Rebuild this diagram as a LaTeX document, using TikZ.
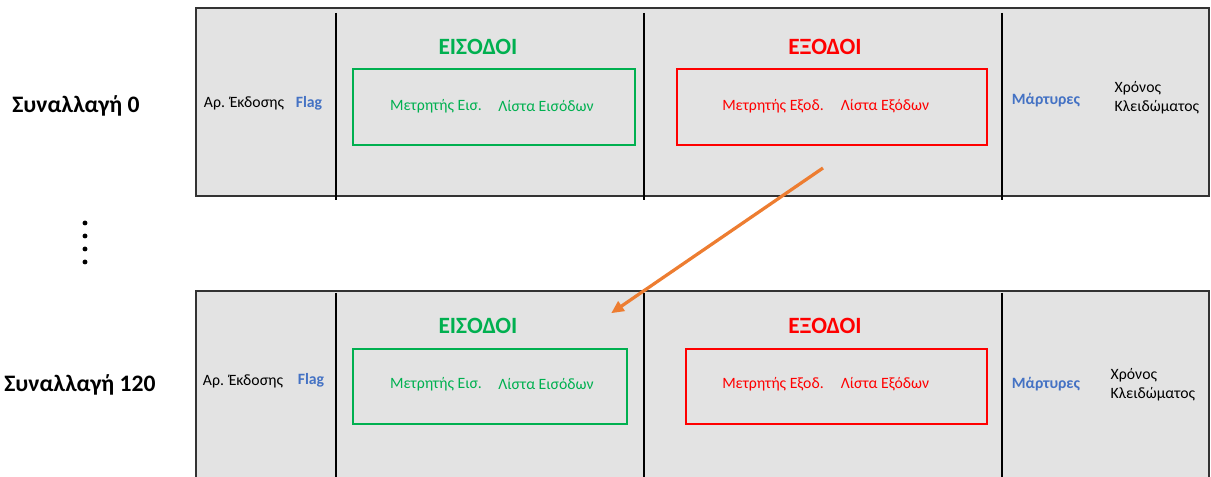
\documentclass[tikz,border=0pt]{standalone}
\usepackage{fontspec}
\setmainfont{Carlito}
\usetikzlibrary{arrows.meta, positioning}
\definecolor{cellgray}{HTML}{E3E3E3}
\definecolor{ingreen}{HTML}{00B050}
\definecolor{outred}{HTML}{FF0000}
\definecolor{flagblue}{HTML}{4472C4}
\definecolor{linkorange}{HTML}{ED7D31}

\begin{document}
\begin{tikzpicture}[
    x=0.025cm, y=-0.025cm,
    >=Stealth,
    txbox/.style={draw=black!80, line width=1pt, fill=cellgray},
    sep/.style={line width=1.3pt},
    inbox/.style={draw=ingreen, line width=0.9pt},
    outbox/.style={draw=outred, line width=0.9pt},
    rowlbl/.style={font=\fontsize{16.8}{19}\selectfont\bfseries},
    head/.style={font=\fontsize{16.6}{19}\selectfont\bfseries},
    fld/.style={font=\fontsize{11.2}{13.5}\selectfont, inner sep=1pt},
    bfld/.style={fld, font=\fontsize{11.2}{13.5}\selectfont\bfseries, text=flagblue},
    dot/.style={circle, fill=black, inner sep=0pt, minimum size=3.5pt},
]
\clip (0,0) rectangle (1211,477);
% ----- transaction 0
\begin{scope}
\node[rowlbl] (row0) at (76,106) {Συναλλαγή 0};
\draw[txbox] (196,8) rectangle (1209,196);
\draw[sep] (336,13) -- (336,200);
\draw[sep] (644,13) -- (644,200);
\draw[sep] (1002,13) -- (1002,200);
\node[fld] (ver0) at (244,103) {Αρ. Έκδοσης};
\node[bfld] (flag0) at (309,103) {Flag};
\node[head, text=ingreen] (inhead0) at (478,47) {ΕΙΣΟΔΟΙ};
\draw[inbox] (353,69) rectangle (635,145);
\node[fld, text=ingreen] (incnt0) at (436,106) {Μετρητής Εισ.};
\node[fld, text=ingreen] (inlist0) at (546,106) {Λίστα Εισόδων};
\node[head, text=outred] (outhead0) at (825,47) {ΕΞΟΔΟΙ};
\draw[outbox] (677,69) rectangle (987,145);
\node[fld, text=outred] (outcnt0) at (773,106) {Μετρητής Εξοδ.};
\node[fld, text=outred] (outlist0) at (885,106) {Λίστα Εξόδων};
\node[bfld] (wit0) at (1046,100) {Μάρτυρες};
\node[fld, align=left, anchor=west] (lock0) at (1113,98) {Χρόνος\\Κλειδώματος};
\coordinate (from) at (823,168);
\end{scope}
% ----- the rows in between
\foreach \k/\yy in {1/223,2/236,3/249,4/262}
  \node[dot] (gap\k) at (85,\yy) {};
% ----- transaction 120
\begin{scope}[shift={(0,283)}]
\node[rowlbl] (row120) at (80,102) {Συναλλαγή 120};
\draw[txbox] (196,8) rectangle (1209,230);
\draw[sep] (336,10) -- (336,230);
\draw[sep] (644,10) -- (644,230);
\draw[sep] (1002,10) -- (1002,230);
\node[fld] (ver120) at (243,98) {Αρ. Έκδοσης};
\node[bfld] (flag120) at (311,97) {Flag};
\node[head, text=ingreen] (inhead120) at (478,43) {ΕΙΣΟΔΟΙ};
\draw[inbox] (353,66) rectangle (627,141);
\node[fld, text=ingreen] (incnt120) at (436,101) {Μετρητής Εισ.};
\node[fld, text=ingreen] (inlist120) at (546,101) {Λίστα Εισόδων};
\node[head, text=outred] (outhead120) at (825,43) {ΕΞΟΔΟΙ};
\draw[outbox] (686,66) rectangle (987,141);
\node[fld, text=outred] (outcnt120) at (773,101) {Μετρητής Εξοδ.};
\node[fld, text=outred] (outlist120) at (885,101) {Λίστα Εξόδων};
\node[bfld] (wit120) at (1046,101) {Μάρτυρες};
\node[fld, align=left, anchor=west] (lock120) at (1109,102) {Χρόνος\\Κλειδώματος};
\coordinate (to) at (610,31);
\end{scope}
% ----- spent output feeds a later input
\draw[->, draw=linkorange, line width=2.3pt, shorten >=1pt,
      -{Triangle[length=9pt, width=8pt]}] (from) -- (to);
\end{tikzpicture}
\end{document}
